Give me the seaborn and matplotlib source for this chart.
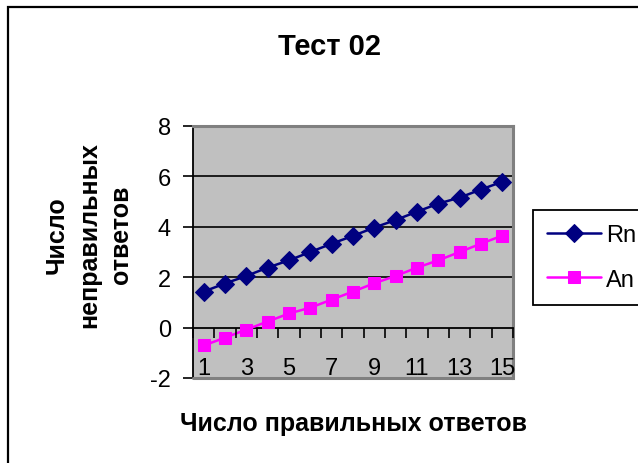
import matplotlib
matplotlib.use("Agg")
import matplotlib.pyplot as plt
from matplotlib.patches import Rectangle
from matplotlib.ticker import FixedLocator
import seaborn as sns
import pandas as pd

sns.set_style("white")
plt.rcParams['font.family'] = ['Liberation Sans', 'DejaVu Sans']
plt.rcParams['text.color'] = 'black'
plt.rcParams['xtick.color'] = 'black'
plt.rcParams['ytick.color'] = 'black'
plt.rcParams['axes.labelcolor'] = 'black'

categories = list(range(1, 16))
rn_values = [1.43, 1.75, 2.05, 2.38, 2.67, 3.00, 3.33, 3.64, 3.97, 4.27, 4.60, 4.92, 5.16, 5.48, 5.79]
an_values = [-0.71, -0.40, -0.08, 0.24, 0.56, 0.79, 1.11, 1.43, 1.76, 2.05, 2.38, 2.67, 3.00, 3.33, 3.65]
x_tick_labels = ['1', '3', '5', '7', '9', '11', '13', '15']
y_ticks = [-2, 0, 2, 4, 6, 8]

df_rn = pd.DataFrame({'x': categories, 'y': rn_values, 'series': 'Rn'})
df_an = pd.DataFrame({'x': categories, 'y': an_values, 'series': 'An'})

W, H = 638, 464
fig = plt.figure(figsize=(W / 100, H / 100), dpi=100)
ax = fig.add_axes([193 / W, 1 - 379 / H, 320 / W, 252 / H])
ax.set_facecolor('#C0C0C0')

for yv in [2, 4, 6]:
    ax.axhline(yv, color='black', lw=1.2, zorder=1)

sns.lineplot(data=df_rn, x='x', y='y', ax=ax, color='#000080', marker='D', markersize=9,
             markeredgecolor='#000080', lw=1.8, label='Rn', zorder=3)
sns.lineplot(data=df_an, x='x', y='y', ax=ax, color='#FF00FF', marker='s', markersize=8,
             markeredgecolor='#FF00FF', lw=1.8, label='An', zorder=3)

ax.set_xlim(0.5, 15.5)
ax.set_ylim(-2, 8)
ax.set_xlabel('')
ax.set_ylabel('')

# spines
ax.spines['left'].set_color('black')
ax.spines['left'].set_linewidth(1.3)
ax.spines['bottom'].set_position(('data', 0))
ax.spines['bottom'].set_color('black')
ax.spines['bottom'].set_linewidth(1.3)
for s in ['top', 'right']:
    ax.spines[s].set_color('#808080')
    ax.spines[s].set_linewidth(2.2)
ax.axhline(-2, color='#808080', lw=2.2, clip_on=False, zorder=5)

# y ticks
ax.set_yticks(y_ticks)
ax.set_yticklabels([str(v) for v in y_ticks])
ax.tick_params(axis='y', direction='out', length=7, width=1.2, color='black',
               labelcolor='black', labelsize=17, pad=9, left=True)

# x ticks: labels at odd categories, tick marks at category boundaries
ax.set_xticks(categories[::2])
ax.set_xticklabels(x_tick_labels)
ax.xaxis.set_minor_locator(FixedLocator([c + 0.5 for c in range(0, 16)]))
ax.tick_params(axis='x', which='major', length=0, labelsize=17, pad=21, bottom=True,
               labelcolor='black')
ax.tick_params(axis='x', which='minor', direction='out', length=7, width=1.2,
               color='black', bottom=True)
ax.xaxis.set_zorder(6)

# legend
leg = ax.legend(loc='upper left', bbox_to_anchor=(533 / W, 1 - 211 / H),
                bbox_transform=fig.transFigure, borderaxespad=0, frameon=True,
                fancybox=False, edgecolor='black', facecolor='white', framealpha=1,
                fontsize=17, handlelength=2.3, handletextpad=0.2, labelspacing=0.95,
                borderpad=0.6, numpoints=1)
leg.get_frame().set_linewidth(1.3)
for t in leg.get_texts():
    t.set_color('black')

# texts
fig.text(329 / W, 1 - 47 / H, 'Тест 02', ha='center', va='center', fontsize=21,
         fontweight='bold', color='black')
fig.text(354 / W, 1 - 424 / H, 'Число правильных ответов', ha='center', va='center',
         fontsize=18, fontweight='bold', color='black')
fig.text(89 / W, 1 - 235 / H, 'Число\nнеправильных\nответов', ha='center', va='center',
         rotation=90, multialignment='center', fontsize=18, fontweight='bold',
         linespacing=1.42, color='black')

# outer chart frame
fig.patches.append(Rectangle((8 / W, -0.2), 1.2, 1 - 8 / H + 0.2, transform=fig.transFigure,
                             fill=False, edgecolor='black', lw=1.6))

fig.savefig('out.png', dpi=100)
